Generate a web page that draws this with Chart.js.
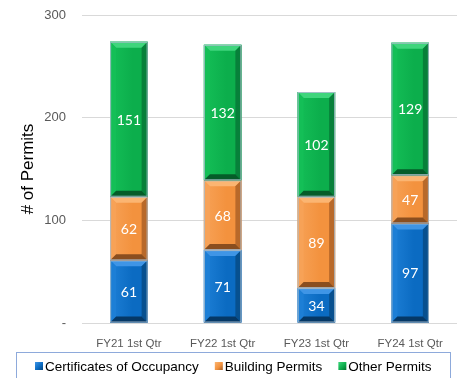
<!DOCTYPE html>
<html>
<head>
<meta charset="utf-8">
<script src="https://cdn.jsdelivr.net/npm/chart.js@4"></script>
<style>
  html, body { margin: 0; padding: 0; background: #fff; }
  #wrap { width: 457px; height: 378px; }
</style>
</head>
<body>
<div id="wrap"><canvas id="grafica" width="457" height="378"></canvas></div>
<script>
// datos del grafico
const trimestres = ["FY21 1st Qtr", "FY22 1st Qtr", "FY23 1st Qtr", "FY24 1st Qtr"];
const certificados = [61, 71, 34, 97];
const permisosConstruccion = [62, 68, 89, 47];
const otrosPermisos = [151, 132, 102, 129];
const marcasEjeY = [0, 100, 200, 300];

// colores: base, claro, oscuro
const tonos = {
    azul:    { base: "#0b6bc2", claro: "#3f95e6", lado: "#07508f", oscuro: "#053866", medio: "#1d7fd6" },
    naranja: { base: "#f3923e", claro: "#fbb572", lado: "#b8692a", oscuro: "#8a4e1f", medio: "#f7a257" },
    verde:   { base: "#0cae4c", claro: "#3fd57c", lado: "#07803a", oscuro: "#055c29", medio: "#14bf57" }
};

// bisel 3D sobre cada barra
const biselPlugin = {
    id: "bisel",
    afterDatasetsDraw(chart) {
        const ctx = chart.ctx;
        chart.data.datasets.forEach(function (ds, i) {
            const meta = chart.getDatasetMeta(i);
            const t = ds.tono;
            meta.data.forEach(function (bar, j) {
                const p = bar.getProps(["x", "y", "base", "width"], true);
                const l = p.x - p.width / 2, r = p.x + p.width / 2;
                const top = Math.min(p.y, p.base), bot = Math.max(p.y, p.base);
                const b = 6;
                ctx.save();
                // cara central con degradado
                const g = ctx.createLinearGradient(l, 0, r, 0);
                g.addColorStop(0, t.medio);
                g.addColorStop(0.6, t.base);
                g.addColorStop(1, t.base);
                ctx.fillStyle = g;
                ctx.fillRect(l, top, r - l, bot - top);
                // arriba
                ctx.fillStyle = t.claro;
                ctx.beginPath();
                ctx.moveTo(l, top); ctx.lineTo(r, top); ctx.lineTo(r - b, top + b); ctx.lineTo(l + b, top + b);
                ctx.closePath(); ctx.fill();
                // izquierda
                ctx.fillStyle = t.medio;
                ctx.beginPath();
                ctx.moveTo(l, top); ctx.lineTo(l + b, top + b); ctx.lineTo(l + b, bot - b); ctx.lineTo(l, bot);
                ctx.closePath(); ctx.fill();
                // derecha
                ctx.fillStyle = t.lado;
                ctx.beginPath();
                ctx.moveTo(r, top); ctx.lineTo(r - b, top + b); ctx.lineTo(r - b, bot - b); ctx.lineTo(r, bot);
                ctx.closePath(); ctx.fill();
                // abajo
                ctx.fillStyle = t.oscuro;
                ctx.beginPath();
                ctx.moveTo(l, bot); ctx.lineTo(r, bot); ctx.lineTo(r - b, bot - b); ctx.lineTo(l + b, bot - b);
                ctx.closePath(); ctx.fill();
                // borde fino
                ctx.strokeStyle = "rgba(170,190,205,0.9)";
                ctx.lineWidth = 1;
                ctx.strokeRect(l + 0.5, top + 0.5, r - l - 1, bot - top - 1);
                // etiqueta
                ctx.fillStyle = "#ffffff";
                ctx.font = "14px Lato, 'Open Sans', sans-serif";
                ctx.textAlign = "center";
                ctx.textBaseline = "middle";
                ctx.fillText(String(ds.data[j]), p.x, (top + bot) / 2 + 1);
                ctx.restore();
            });
        });
    }
};

// leyenda con recuadro
const leyendaPlugin = {
    id: "leyenda",
    afterDraw(chart) {
        const ctx = chart.ctx;
        ctx.save();
        ctx.strokeStyle = "#8eaadb";
        ctx.lineWidth = 1;
        ctx.strokeRect(16.5, 352.5, 434, 40);
        ctx.font = "13.5px Arial, 'Liberation Sans', sans-serif";
        ctx.textBaseline = "middle";
        ctx.textAlign = "left";
        let x = 35;
        const y = 367;
        chart.data.datasets.forEach(function (ds) {
            const t = ds.tono;
            const g = ctx.createLinearGradient(x, y - 5, x + 9, y + 4);
            g.addColorStop(0, t.claro);
            g.addColorStop(0.5, t.base);
            g.addColorStop(1, t.oscuro);
            ctx.fillStyle = g;
            ctx.fillRect(x, y - 5, 8, 8);
            ctx.fillStyle = "#000000";
            ctx.fillText(ds.label, x + 10, y);
            x += 10 + ctx.measureText(ds.label).width + 16;
        });
        ctx.restore();
    }
};

const ctxGrafica = document.getElementById("grafica").getContext("2d");
new Chart(ctxGrafica, {
    type: "bar",
    data: {
        labels: trimestres,
        datasets: [
            { label: "Certificates of Occupancy", data: certificados, backgroundColor: tonos.azul.base, tono: tonos.azul },
            { label: "Building Permits", data: permisosConstruccion, backgroundColor: tonos.naranja.base, tono: tonos.naranja },
            { label: "Other Permits", data: otrosPermisos, backgroundColor: tonos.verde.base, tono: tonos.verde }
        ]
    },
    options: {
        responsive: false,
        animation: false,
        layout: { padding: { top: 15, right: 0, bottom: 25, left: 0 } },
        plugins: {
            legend: { display: false },
            tooltip: { enabled: false }
        },
        datasets: { bar: { categoryPercentage: 1, barPercentage: 0.4 } },
        scales: {
            x: {
                stacked: true,
                grid: { display: false },
                border: { display: false },
                ticks: { color: "#595959", font: { family: "Arial, 'Liberation Sans', sans-serif", size: 11.5 }, padding: 6, maxRotation: 0 },
                afterFit: function (scale) { scale.height = 30; }
            },
            y: {
                stacked: true,
                min: 0,
                max: 300,
                afterBuildTicks: function (scale) { scale.ticks = marcasEjeY.map(v => ({ value: v })); },
                grid: { color: "#d9d9d9", drawTicks: false },
                border: { display: false },
                ticks: {
                    color: "#595959",
                    font: { family: "Arial, 'Liberation Sans', sans-serif", size: 13 },
                    padding: 16,
                    callback: function (v) { return v === 0 ? "-" : v; }
                },
                title: {
                    display: true,
                    text: "# of Permits",
                    color: "#000000",
                    font: { family: "Arial, 'Liberation Sans', sans-serif", size: 17 },
                    padding: { top: 18, bottom: 0 }
                },
                afterFit: function (scale) {
                    scale.width = 82;
                    scale.paddingTop = 0;
                    scale.paddingBottom = 0;
                }
            }
        }
    },
    plugins: [biselPlugin, leyendaPlugin]
});
</script>
</body>
</html>
